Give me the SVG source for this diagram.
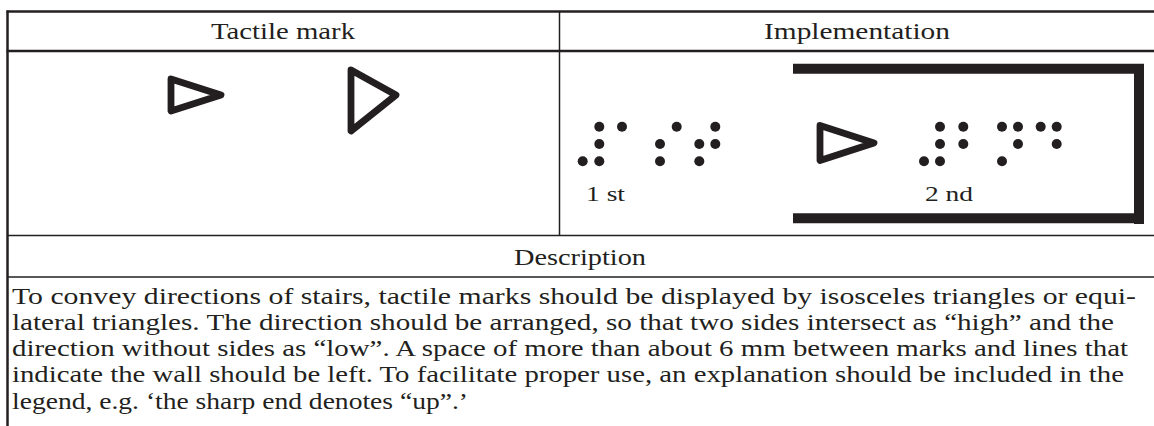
<svg xmlns="http://www.w3.org/2000/svg" width="1154" height="426" viewBox="0 0 1154 426">
<style>
.grid{stroke:#231f20;fill:none}
.thick{stroke-width:2.5}
.thin{stroke-width:1.5}
.tri{fill:none;stroke:#231f20;stroke-width:6.8;stroke-linejoin:round}
.wall{stroke:#231f20;stroke-width:10;fill:none}
.dot{fill:#231f20}
.hd{font-family:"Liberation Serif",serif;font-size:23px;fill:#231f20}
.lbl{font-family:"Liberation Serif",serif;font-size:22px;fill:#231f20}
.desc{font-family:"Liberation Serif",serif;font-size:23.5px;fill:#231f20}
</style>
<rect width="1154" height="426" fill="#ffffff"/>
<g id="table">
<line class="grid thick" x1="6.5" y1="11.5" x2="1154" y2="11.5"/>
<line class="grid thick" x1="6.5" y1="51" x2="1154" y2="51"/>
<line class="grid thick" x1="7.5" y1="10.5" x2="7.5" y2="426"/>
<line class="grid thin" x1="559.5" y1="11" x2="559.5" y2="236"/>
<line class="grid thin" x1="7" y1="235.5" x2="1154" y2="235.5"/>
<line class="grid thin" x1="7" y1="277" x2="1154" y2="277"/>
</g>
<g id="headers">
<text class="hd" x="283" y="39" text-anchor="middle" textLength="144" lengthAdjust="spacingAndGlyphs">Tactile mark</text>
<text class="hd" x="857" y="39" text-anchor="middle" textLength="186" lengthAdjust="spacingAndGlyphs">Implementation</text>
<text class="hd" x="580" y="265" text-anchor="middle" textLength="132" lengthAdjust="spacingAndGlyphs">Description</text>
</g>
<g id="tactile-marks">
<polygon class="tri" points="171,79 221,95 171,111"/>
<polygon class="tri" points="351,70 396,95 351,131"/>
</g>
<g id="implementation">
<polyline class="wall" points="793,68.7 1139,68.7 1139,224"/>
<line class="wall" x1="793" y1="218.3" x2="1139" y2="218.3"/>
<polygon class="tri" points="820,125.5 874,143 820,160.5"/>
<g id="braille-1st">
<circle class="dot" cx="582.7" cy="161.3" r="5"/>
<circle class="dot" cx="599.3" cy="126.7" r="5"/>
<circle class="dot" cx="599.3" cy="144" r="5"/>
<circle class="dot" cx="599.3" cy="161.3" r="5"/>
<circle class="dot" cx="622" cy="126.7" r="5"/>
<circle class="dot" cx="660" cy="144" r="5"/>
<circle class="dot" cx="660" cy="161.3" r="5"/>
<circle class="dot" cx="676.7" cy="126.7" r="5"/>
<circle class="dot" cx="715.3" cy="126.7" r="5"/>
<circle class="dot" cx="699.3" cy="144" r="5"/>
<circle class="dot" cx="715.3" cy="144" r="5"/>
<circle class="dot" cx="699.3" cy="161.3" r="5"/>
</g>
<g id="braille-2nd">
<circle class="dot" cx="924" cy="161.3" r="5"/>
<circle class="dot" cx="940" cy="126.7" r="5"/>
<circle class="dot" cx="940" cy="144" r="5"/>
<circle class="dot" cx="940" cy="161.3" r="5"/>
<circle class="dot" cx="963.3" cy="126.7" r="5"/>
<circle class="dot" cx="963.3" cy="144" r="5"/>
<circle class="dot" cx="1002" cy="126.7" r="5"/>
<circle class="dot" cx="1018" cy="126.7" r="5"/>
<circle class="dot" cx="1018" cy="144" r="5"/>
<circle class="dot" cx="1002" cy="161.3" r="5"/>
<circle class="dot" cx="1040.7" cy="126.7" r="5"/>
<circle class="dot" cx="1056.7" cy="126.7" r="5"/>
<circle class="dot" cx="1056.7" cy="144" r="5"/>
</g>
<text class="lbl" x="586" y="201" textLength="39" lengthAdjust="spacingAndGlyphs">1 st</text>
<text class="lbl" x="925" y="201" textLength="48" lengthAdjust="spacingAndGlyphs">2 nd</text>
</g>
<g id="description">
<text class="desc" x="12" y="303.5" textLength="1124" lengthAdjust="spacingAndGlyphs">To convey directions of stairs, tactile marks should be displayed by isosceles triangles or equi-</text>
<text class="desc" x="12" y="329.8" textLength="1102" lengthAdjust="spacingAndGlyphs">lateral triangles. The direction should be arranged, so that two sides intersect as “high” and the</text>
<text class="desc" x="12" y="356.1" textLength="1116" lengthAdjust="spacingAndGlyphs">direction without sides as “low”. A space of more than about 6 mm between marks and lines that</text>
<text class="desc" x="12" y="382.4" textLength="1112" lengthAdjust="spacingAndGlyphs">indicate the wall should be left. To facilitate proper use, an explanation should be included in the</text>
<text class="desc" x="12" y="408.7" textLength="456" lengthAdjust="spacingAndGlyphs">legend, e.g. ‘the sharp end denotes “up”.’</text>
</g>
</svg>
